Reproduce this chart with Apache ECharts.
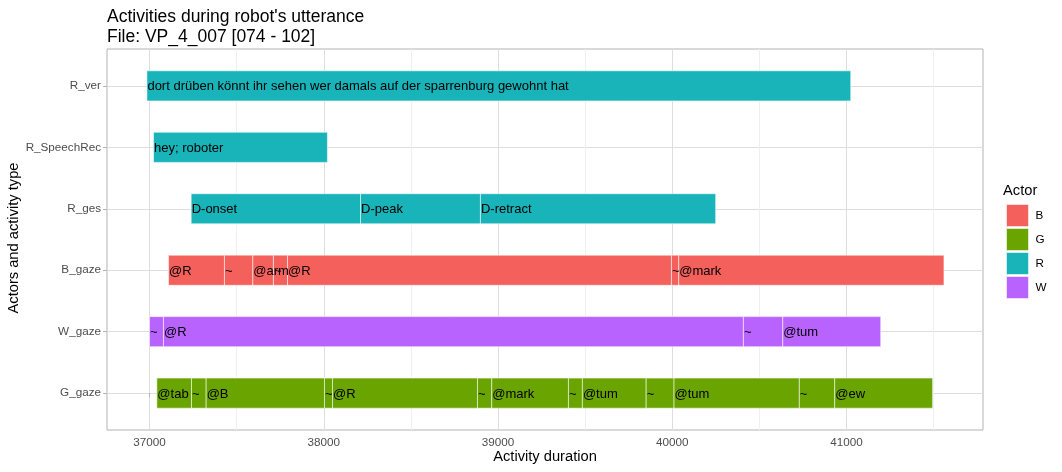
<!DOCTYPE html>
<html><head><meta charset="utf-8">
<script src="https://cdn.jsdelivr.net/npm/echarts@6/dist/echarts.min.js"></script>
<style>html,body{margin:0;padding:0;background:#fff}#c{width:1062px;height:472px}</style>
</head><body><div id="c"></div>
<script>
// Rows from bottom to top
const rowNames = ['G_gaze', 'W_gaze', 'B_gaze', 'R_ges', 'R_SpeechRec', 'R_ver'];
const rowActors = ['G', 'W', 'B', 'R', 'R', 'R'];
const actors = ['B', 'G', 'R', 'W'];
const actorColors = ['#F4605B', '#6AA400', '#19B4B9', '#B963FF'];

// segment start times, labels, and end of the last segment, per row
const gGazeStarts = [37042, 37241, 37325, 38004, 38050, 38882, 38964, 39404, 39484, 39850, 40010, 40729, 40932];
const gGazeLabels = ['@tab', '~', '@B', '~', '@R', '~', '@mark', '~', '@tum', '~', '@tum', '~', '@ew'];
const gGazeEnd = 41494;
const wGazeStarts = [37000, 37080, 40408, 40634];
const wGazeLabels = ['~', '@R', '~', '@tum'];
const wGazeEnd = 41196;
const bGazeStarts = [37109, 37430, 37593, 37711, 37792, 39995, 40037];
const bGazeLabels = ['@R', '~', '@arm', '~', '@R', '~', '@mark'];
const bGazeEnd = 41559;
const rGesStarts = [37239, 38211, 38899];
const rGesLabels = ['D-onset', 'D-peak', 'D-retract'];
const rGesEnd = 40249;
const rSpeechStarts = [37023];
const rSpeechLabels = ['hey; roboter'];
const rSpeechEnd = 38021;
const rVerStarts = [36985];
const rVerLabels = ['dort drüben könnt ihr sehen wer damals auf der sparrenburg gewohnt hat'];
const rVerEnd = 41024;

const xTicks = [37000, 38000, 39000, 40000, 41000];
const yTicks = [0, 1, 2, 3, 4, 5];

const rows = [
  [gGazeStarts, gGazeLabels, gGazeEnd],
  [wGazeStarts, wGazeLabels, wGazeEnd],
  [bGazeStarts, bGazeLabels, bGazeEnd],
  [rGesStarts, rGesLabels, rGesEnd],
  [rSpeechStarts, rSpeechLabels, rSpeechEnd],
  [rVerStarts, rVerLabels, rVerEnd]
];

const seriesData = {};
actors.forEach(a => seriesData[a] = []);
rows.forEach((r, i) => {
  const [st, lb, end] = r;
  st.forEach((s, k) => {
    const e = k + 1 < st.length ? st[k + 1] : end;
    seriesData[rowActors[i]].push([s, i, e, lb[k]]);
  });
});

function renderItem(params, api) {
  const s = api.value(0), row = api.value(1), e = api.value(2);
  const p0 = api.coord([s, row]);
  const p1 = api.coord([e, row]);
  const h = api.size([0, 0.49])[1];
  const label = seriesData[actors[params.seriesIndex]][params.dataIndex][3];
  return {
    type: 'group',
    children: [
      { type: 'rect', shape: { x: p0[0], y: p0[1] - h / 2, width: p1[0] - p0[0], height: h },
        style: { fill: api.visual('color'), stroke: 'rgba(255,255,255,0.55)', lineWidth: 1 } },
      { type: 'text', x: p0[0] + 0.5, y: p0[1] + 1,
        style: { text: label, fill: '#000', font: '13px "Liberation Sans", Arial, sans-serif',
                 textAlign: 'left', textVerticalAlign: 'middle' }, z2: 10 }
    ]
  };
}

const chart = echarts.init(document.getElementById('c'), null, { renderer: 'canvas' });
chart.setOption({
  animation: false,
  color: actorColors,
  title: {
    text: "Activities during robot's utterance\nFile: VP_4_007 [074 - 102]",
    left: 102, top: 2,
    textStyle: { fontSize: 17.5, fontWeight: 'normal', color: '#000', lineHeight: 20,
                 fontFamily: '"Liberation Sans", Arial, sans-serif' }
  },
  grid: { left: 107, right: 79, top: 49, bottom: 42, show: true, borderColor: '#B3B3B3', borderWidth: 1 },
  legend: {
    orient: 'vertical', left: 1006, top: 204, itemWidth: 22, itemHeight: 22, itemGap: 1,
    icon: 'rect', padding: 0, data: actors, itemStyle: { borderColor: 'rgba(255,255,255,0.55)', borderWidth: 1 },
    textStyle: { fontSize: 11.7, color: '#000', padding: [0, 0, 0, 2], fontFamily: '"Liberation Sans", Arial, sans-serif' }
  },
  xAxis: {
    type: 'value', min: 36756, max: 41783, splitNumber: 5,
    axisLine: { show: false },
    axisTick: { show: true, length: 4, customValues: xTicks, lineStyle: { color: '#B3B3B3' } },
    axisLabel: { color: '#4D4D4D', fontSize: 11.7, margin: 7, customValues: xTicks,
                 fontFamily: '"Liberation Sans", Arial, sans-serif',
                 formatter: v => String(v) },
    splitLine: { show: true, lineStyle: { color: '#DEDEDE', width: 1 } },
    minorTick: { show: false, splitNumber: 2 },
    minorSplitLine: { show: true, lineStyle: { color: '#F0F0F0', width: 1 } }
  },
  yAxis: {
    type: 'value', min: -0.6, max: 5.6, splitNumber: 6,
    axisLine: { show: false },
    axisTick: { show: true, length: 4, customValues: yTicks, lineStyle: { color: '#B3B3B3' } },
    axisLabel: { color: '#4D4D4D', fontSize: 11.7, margin: 6, customValues: yTicks,
                 fontFamily: '"Liberation Sans", Arial, sans-serif',
                 formatter: v => rowNames[Math.round(v)] || '' },
    splitLine: { show: true, lineStyle: { color: '#DEDEDE', width: 1 } }
  },
  graphic: [
    { type: 'text', x: 545, y: 457, style: { text: 'Activity duration', fill: '#000',
      font: '14.7px "Liberation Sans", Arial, sans-serif', textAlign: 'center', textVerticalAlign: 'middle' } },
    { type: 'text', x: 14, y: 238, rotation: Math.PI / 2, style: { text: 'Actors and activity type', fill: '#000',
      font: '14.7px "Liberation Sans", Arial, sans-serif', textAlign: 'center', textVerticalAlign: 'middle' } },
    { type: 'text', x: 1003, y: 191, style: { text: 'Actor', fill: '#000',
      font: '14.7px "Liberation Sans", Arial, sans-serif', textAlign: 'left', textVerticalAlign: 'middle' } }
  ],
  series: actors.map((a, i) => ({
    type: 'custom', name: a, renderItem: renderItem,
    itemStyle: { color: actorColors[i] },
    encode: { x: [0, 2], y: 1 },
    data: seriesData[a].map(d => [d[0], d[1], d[2]])
  }))
});
</script></body></html>
